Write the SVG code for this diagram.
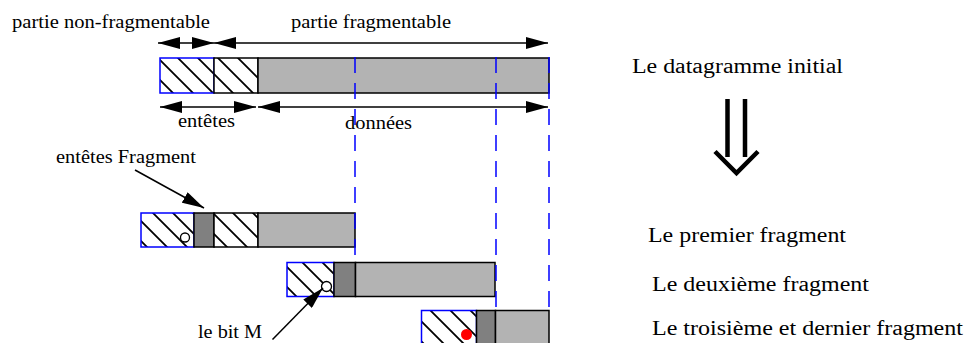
<svg xmlns="http://www.w3.org/2000/svg" width="967" height="343" viewBox="0 0 967 343">
<style>
text{font-family:"Liberation Serif","Times New Roman",serif;fill:#000}
.s{font-size:18px}
.l{font-size:20.5px}
.hb{fill:url(#hatch);stroke:#0000ff;stroke-width:1.5}
.hk{fill:url(#hatch);stroke:#000;stroke-width:1.5}
.lg{fill:#b3b3b3;stroke:#000;stroke-width:1.5}
.dg{fill:#808080;stroke:#000;stroke-width:1.5}
.dash{stroke:#0000ff;stroke-width:1.5;stroke-dasharray:16 10;fill:none}
.ar{stroke:#000;stroke-width:1.5;fill:none}
</style>
<defs>
<pattern id="hatch" patternUnits="userSpaceOnUse" width="20" height="20">
<rect width="20" height="20" fill="#fff"/>
<path d="M-5,-5 L25,25 M-5,15 L5,25 M15,-5 L25,5" stroke="#000" stroke-width="1.8"/>
</pattern>
<marker id="ah" markerUnits="userSpaceOnUse" markerWidth="22" markerHeight="12" refX="22" refY="6" orient="auto-start-reverse">
<path d="M0,0 L22,6 L0,12 z" fill="#000"/>
</marker>
</defs>

<g id="datagramme">
<rect class="hb" x="160" y="58" width="54" height="35"/>
<rect class="hk" x="214" y="58" width="44" height="35"/>
<rect class="lg" x="258" y="58" width="291" height="35"/>
</g>

<g id="fragment1">
<rect class="hb" x="141" y="213" width="53" height="34"/>
<rect class="dg" x="194" y="213" width="20" height="34"/>
<rect class="hk" x="214" y="213" width="44" height="34"/>
<rect class="lg" x="258" y="213" width="97" height="34"/>
<circle cx="185" cy="237.5" r="4.5" fill="#fff" stroke="#000" stroke-width="1.3"/>
</g>

<g id="fragment2">
<rect class="hb" x="287" y="262.5" width="47" height="34"/>
<rect class="dg" x="334" y="262.5" width="21.5" height="34"/>
<rect class="lg" x="355.5" y="262.5" width="139.5" height="34"/>
<circle cx="326.5" cy="286.5" r="5" fill="#fff" stroke="#000" stroke-width="1.3"/>
</g>

<g id="fragment3">
<rect class="hb" x="421.5" y="310.5" width="55" height="40"/>
<rect class="dg" x="476.5" y="310.5" width="19" height="40"/>
<rect class="lg" x="495.5" y="310.5" width="53.5" height="40"/>
<circle cx="466.5" cy="334.5" r="5.5" fill="#ff0000"/>
</g>

<g id="connectors">
<line class="dash" x1="355" y1="57" x2="355" y2="262"/>
<line class="dash" x1="496" y1="57" x2="496" y2="310"/>
<line class="dash" x1="549" y1="57" x2="549" y2="310"/>
<line class="ar" x1="158" y1="43" x2="214" y2="43" marker-start="url(#ah)" marker-end="url(#ah)"/>
<line class="ar" x1="214" y1="43" x2="548" y2="43" marker-start="url(#ah)" marker-end="url(#ah)"/>
<line class="ar" x1="160" y1="107" x2="256" y2="107" marker-start="url(#ah)" marker-end="url(#ah)"/>
<line class="ar" x1="258" y1="107" x2="548" y2="107" marker-start="url(#ah)" marker-end="url(#ah)"/>
<line class="ar" x1="135" y1="170" x2="204" y2="208" marker-end="url(#ah)"/>
<line class="ar" x1="272.5" y1="339.5" x2="323" y2="288" marker-end="url(#ah)"/>
<path d="M727.5,99 V157 M745,99 V157 M715,151.5 L736.5,173 L758,151.5" stroke="#000" stroke-width="4.5" fill="none"/>
</g>

<g id="labels">
<text class="s" x="12" y="28" textLength="198" lengthAdjust="spacingAndGlyphs">partie non-fragmentable</text>
<text class="s" x="291" y="28" textLength="160" lengthAdjust="spacingAndGlyphs">partie fragmentable</text>
<text class="s" x="178" y="127" textLength="57" lengthAdjust="spacingAndGlyphs">entêtes</text>
<text class="s" x="345" y="129" textLength="67" lengthAdjust="spacingAndGlyphs">données</text>
<text class="s" x="56" y="163" textLength="140" lengthAdjust="spacingAndGlyphs">entêtes Fragment</text>
<text class="s" x="198" y="338" textLength="64" lengthAdjust="spacingAndGlyphs">le bit M</text>
<text class="l" x="632" y="73" textLength="211" lengthAdjust="spacingAndGlyphs">Le datagramme initial</text>
<text class="l" x="648" y="242" textLength="198" lengthAdjust="spacingAndGlyphs">Le premier fragment</text>
<text class="l" x="652" y="291" textLength="217" lengthAdjust="spacingAndGlyphs">Le deuxième fragment</text>
<text class="l" x="652" y="335" textLength="311" lengthAdjust="spacingAndGlyphs">Le troisième et dernier fragment</text>
</g>
</svg>
